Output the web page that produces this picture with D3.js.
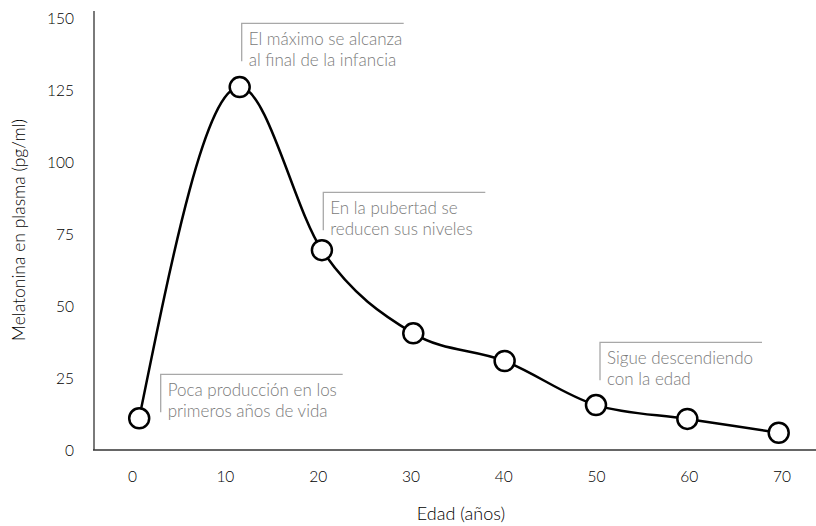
<!DOCTYPE html>
<html><head><meta charset="utf-8">
<script src="https://cdn.jsdelivr.net/npm/d3@7"></script>
<style>
html,body{margin:0;padding:0;background:#fff;}
svg{display:block;font-family:"Source Sans Pro",Lato,"Open Sans",sans-serif;}
</style></head>
<body>
<svg id="chart" width="816" height="526"></svg>
<script>
// ---- data ----
const ages = [0, 11, 20, 30, 40, 50, 60, 70];
const melatonin = [11, 126, 69.4, 40.5, 30.9, 15.6, 10.8, 6.0];
const xTickLabels = ["0", "10", "20", "30", "40", "50", "60", "70"];
const yTickValues = [0, 25, 50, 75, 100, 125, 150];
const annotationTexts = [
  ["Poca producción en los", "primeros años de vida"],
  ["El máximo se alcanza", "al final de la infancia"],
  ["En la pubertad se", "reducen sus niveles"],
  ["Sigue descendiendo", "con la edad"]
];
const xTitle = "Edad (años)";
const yTitle = "Melatonina en plasma (pg/ml)";

// ---- layout ----
const svg = d3.select("#chart");
const axisLeftX = 94, axisBottomY = 450;
const x = d3.scaleLinear().domain([0, 70]).range([139.2, 778.7]);
const xTicks = d3.scalePoint().domain(xTickLabels).range([132.6, 782]);
const y = d3.scaleLinear().domain([0, 150]).range([450, 18]);

// y axis line (gray)
svg.append("line").attr("x1", axisLeftX).attr("x2", axisLeftX)
  .attr("y1", 11).attr("y2", axisBottomY)
  .attr("stroke", "#7a7a7a").attr("stroke-width", 2);
// x axis line (dark)
svg.append("line").attr("x1", axisLeftX - 1).attr("x2", 816)
  .attr("y1", axisBottomY).attr("y2", axisBottomY)
  .attr("stroke", "#333").attr("stroke-width", 1.5);

// y tick labels
svg.append("g").selectAll("text").data(yTickValues).join("text")
  .attr("x", 74).attr("y", d => y(d)).attr("dy", "0.36em")
  .attr("text-anchor", "end").attr("font-size", 15.5).attr("font-weight", 300).attr("fill", "#000")
  .text(d => d);

// x tick labels
svg.append("g").selectAll("text").data(xTickLabels).join("text")
  .attr("x", d => xTicks(d)).attr("y", 476).attr("dy", "0.36em")
  .attr("text-anchor", "middle").attr("font-size", 15.5).attr("font-weight", 300).attr("fill", "#000")
  .text(d => d);

// axis titles
svg.append("text").attr("x", 461).attr("y", 514).attr("dy", "0.36em")
  .attr("text-anchor", "middle").attr("font-size", 18).attr("font-weight", 300).attr("fill", "#000").text(xTitle);
svg.append("text").attr("transform", "translate(19,230) rotate(-90)").attr("dy", "0.36em")
  .attr("text-anchor", "middle").attr("font-size", 17.5).attr("font-weight", 300).attr("fill", "#000").text(yTitle);

// annotations
const annPos = [
  {x: 160.7, y: 374.3, w: 182},
  {x: 241.7, y: 23.3, w: 162},
  {x: 323.3, y: 192.3, w: 162},
  {x: 600, y: 342.3, w: 162}
];
annotationTexts.forEach((lines, i) => {
  const p = annPos[i];
  const g = svg.append("g");
  g.append("path")
    .attr("d", `M${p.x},${p.y + 38}V${p.y}H${p.x + p.w}`)
    .attr("fill", "none").attr("stroke", "#a8a8a8").attr("stroke-width", 1.3);
  g.selectAll("text").data(lines).join("text")
    .attr("x", p.x + 7).attr("y", (d, j) => p.y + 21.5 + j * 21.5)
    .attr("font-size", 17).attr("font-weight", 300).attr("fill", "#7a7a7a")
    .text(d => d);
});

// line
const pts = ages.map((a, i) => [a, melatonin[i]]);
const line = d3.line().x(d => x(d[0])).y(d => y(d[1])).curve(d3.curveMonotoneX);
svg.append("path").datum(pts).attr("d", line)
  .attr("fill", "none").attr("stroke", "#000").attr("stroke-width", 2.5);

// markers
svg.append("g").selectAll("circle").data(pts).join("circle")
  .attr("cx", d => x(d[0])).attr("cy", d => y(d[1])).attr("r", 10)
  .attr("fill", "#fff").attr("stroke", "#000").attr("stroke-width", 2.5);
</script>
</body></html>
